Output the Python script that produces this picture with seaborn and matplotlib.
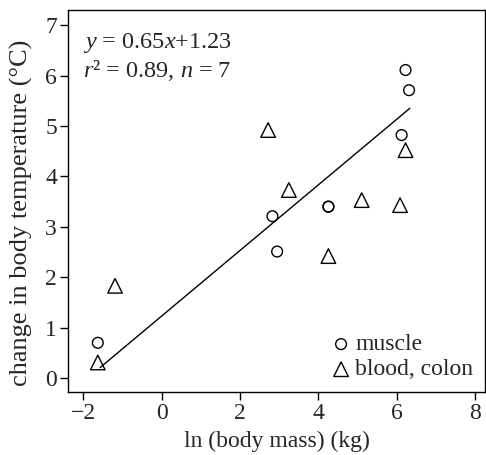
import matplotlib
matplotlib.use("Agg")
import matplotlib.pyplot as plt
import seaborn as sns
import pandas as pd
import numpy as np

# data
muscle_x = [-1.63, 2.83, 2.95, 4.26, 4.26, 6.23, 6.32, 6.13]
muscle_y = [0.70, 3.21, 2.51, 3.40, 3.40, 6.11, 5.71, 4.82]
blood_x = [-1.63, -1.19, 2.72, 3.25, 4.26, 5.11, 6.09, 6.23]
blood_y = [0.31, 1.83, 4.92, 3.73, 2.42, 3.53, 3.43, 4.52]
slope = 0.65
intercept = 1.23
fit_x_range = [-1.57, 6.34]
x_ticks = [-2, 0, 2, 4, 6, 8]
y_ticks = [0, 1, 2, 3, 4, 5, 6, 7]

sns.set_style("ticks")
plt.rcParams['font.family'] = ['Liberation Serif', 'DejaVu Serif']
plt.rcParams['mathtext.fontset'] = 'custom'
plt.rcParams['mathtext.rm'] = 'Liberation Serif'
plt.rcParams['mathtext.it'] = 'Liberation Serif:italic'

df = pd.DataFrame({
    "x": muscle_x + blood_x,
    "y": muscle_y + blood_y,
    "group": ["muscle"] * len(muscle_x) + ["blood, colon"] * len(blood_x),
})

fig = plt.figure(figsize=(4.86, 4.55), dpi=100)
ax = fig.add_axes([0.140, 0.138, 0.858, 0.840])

sub_m = df[df.group == "muscle"]
sub_b = df[df.group == "blood, colon"]
sns.scatterplot(data=sub_m, x="x", y="y", marker="o", s=60, facecolor="none",
                edgecolor="black", linewidth=1.0, ax=ax, label="muscle")
sns.scatterplot(data=sub_b, x="x", y="y", marker="^", s=110, facecolor="none",
                edgecolor="black", linewidth=1.0, ax=ax, label="blood, colon")

fx = np.array(fit_x_range)
line_df = pd.DataFrame({"x": fx, "y": slope * fx + intercept})
sns.lineplot(data=line_df, x="x", y="y", color="black", linewidth=1.0, ax=ax)

ax.set_xlim(-2.39, 8.26)
ax.set_ylim(-0.28, 7.3)
ax.set_xticks(x_ticks)
ax.set_yticks(y_ticks)
ax.tick_params(axis="both", direction="out", length=6, width=1, labelsize=17, color="black", pad=2)
for s in ax.spines.values():
    s.set_linewidth(1.0)
    s.set_color("black")
    s.set_visible(True)

ax.set_xlabel("ln (body mass) (kg)", fontsize=17, labelpad=5)
ax.set_ylabel("change in body temperature (°C)", fontsize=19)
ax.yaxis.set_label_coords(-0.085, 0.47)

ax.text(0.035, 0.900, r"$y$ = 0.65$x$+1.23", transform=ax.transAxes, fontsize=17.5,
        va="baseline", ha="left")
ax.text(0.035, 0.825, r"$r$² = 0.89, $n$ = 7", transform=ax.transAxes, fontsize=17.5,
        va="baseline", ha="left")

leg = ax.legend(loc="lower right", frameon=False, fontsize=17, handletextpad=0.1,
                borderaxespad=0.1, labelspacing=0.15, handlelength=1.0,
                bbox_to_anchor=(1.0, 0.0))

fig.savefig("out.png", dpi=100)
